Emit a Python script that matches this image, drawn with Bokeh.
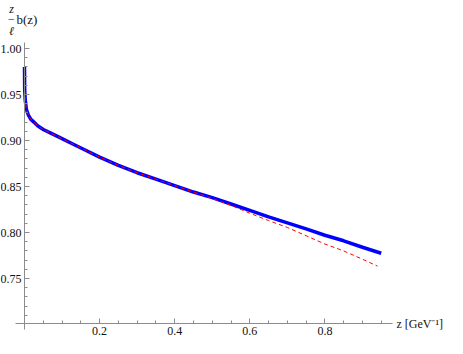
from bokeh.plotting import figure
from bokeh.models import Range1d, FixedTicker, NumeralTickFormatter, Label
from bokeh.embed import file_html
from bokeh.resources import INLINE

# Blue curve (solid)
z_blue = [0.0, 0.0005, 0.002, 0.005, 0.01, 0.017, 0.025, 0.035, 0.05, 0.07, 0.1, 0.13,
          0.16, 0.2, 0.25, 0.3, 0.35, 0.4, 0.45, 0.5, 0.55, 0.6, 0.65, 0.7, 0.75, 0.8,
          0.85, 0.9, 0.95]
b_blue = [0.980, 0.955, 0.944, 0.934, 0.928, 0.923, 0.920, 0.916, 0.912, 0.908, 0.902, 0.896,
          0.890, 0.882, 0.873, 0.865, 0.858, 0.851, 0.844, 0.838, 0.831, 0.824, 0.817, 0.8105,
          0.804, 0.797, 0.791, 0.784, 0.7775]

# Red curve (dashed)
z_red = [0.0005, 0.002, 0.005, 0.01, 0.017, 0.025, 0.035, 0.05, 0.07, 0.1, 0.13,
         0.16, 0.2, 0.25, 0.3, 0.35, 0.4, 0.45, 0.5, 0.55, 0.6, 0.65, 0.7, 0.75, 0.8,
         0.85, 0.9, 0.94]
b_red = [0.955, 0.944, 0.934, 0.928, 0.923, 0.920, 0.916, 0.912, 0.908, 0.902, 0.896,
         0.890, 0.882, 0.873, 0.865, 0.858, 0.851, 0.844, 0.837, 0.8295, 0.821, 0.813, 0.8055,
         0.7965, 0.7875, 0.780, 0.771, 0.7635]

x_major = [0.2, 0.4, 0.6, 0.8]
x_minor = [0.05, 0.1, 0.15, 0.25, 0.3, 0.35, 0.45, 0.5, 0.55, 0.65, 0.7, 0.75, 0.85, 0.9, 0.95]
y_major = [0.75, 0.80, 0.85, 0.90, 0.95, 1.00]
y_minor = [0.71, 0.72, 0.73, 0.74, 0.76, 0.77, 0.78, 0.79, 0.81, 0.82, 0.83, 0.84,
           0.86, 0.87, 0.88, 0.89, 0.91, 0.92, 0.93, 0.94, 0.96, 0.97, 0.98, 0.99]

# plot range (axis extents) and the point where the axes cross
x_axis_bounds = (-0.024, 0.98)
y_axis_bounds = (0.695, 1.0065)
x_cross, y_cross = 0.0, 0.701

FONT = "Liberation Serif"
AXC = "#8c8c8c"
TXT = "#111111"

p = figure(width=447, height=338, output_backend="svg", toolbar_location=None,
           x_range=Range1d(-0.0639, 1.1265), y_range=Range1d(0.6848, 1.0522),
           min_border=0, min_border_left=0, min_border_right=0,
           min_border_top=0, min_border_bottom=0)
p.outline_line_color = None
p.xgrid.visible = False
p.ygrid.visible = False
p.background_fill_color = "white"
p.border_fill_color = "white"

p.line(z_blue, b_blue, line_color="#0000ff", line_width=3.5)
p.line(z_red, b_red, line_color="#ff0000", line_width=1, line_dash="4 3")

for ax, major, minor, fmt, bnds, loc in (
        (p.xaxis[0], x_major, x_minor, "0.0", x_axis_bounds, y_cross),
        (p.yaxis[0], y_major, y_minor, "0.00", y_axis_bounds, x_cross)):
    ax.ticker = FixedTicker(ticks=major, minor_ticks=minor)
    ax.formatter = NumeralTickFormatter(format=fmt)
    ax.fixed_location = loc
    ax.bounds = bnds
    ax.axis_line_color = AXC
    ax.major_tick_line_color = AXC
    ax.minor_tick_line_color = AXC
    ax.major_tick_in = 5
    ax.major_tick_out = 0
    ax.minor_tick_in = 3
    ax.minor_tick_out = 0
    ax.major_label_text_font = FONT
    ax.major_label_text_font_size = "12px"
    ax.major_label_text_color = TXT
p.xaxis[0].major_label_standoff = 3
p.yaxis[0].major_label_standoff = 3

# x-axis label at the right end of the axis
p.add_layout(Label(x=x_axis_bounds[1], y=y_cross, x_offset=4, y_offset=0, text="z [GeV⁻¹]",
                   text_font=FONT, text_font_size="12px", text_color=TXT,
                   text_align="left", text_baseline="alphabetic"))

# y-axis label: (z / l) b(z), above the top of the y axis
top = y_axis_bounds[1]
p.add_layout(Label(x=x_cross, y=top, x_offset=-13, y_offset=34, text="z",
                   text_font=FONT, text_font_size="12px", text_font_style="italic",
                   text_align="center", text_baseline="middle", text_color=TXT))
p.add_layout(Label(x=x_cross, y=top, x_offset=-13, y_offset=24, text="−",
                   text_font=FONT, text_font_size="12px",
                   text_align="center", text_baseline="middle", text_color=TXT))
p.add_layout(Label(x=x_cross, y=top, x_offset=-13, y_offset=12, text="ℓ",
                   text_font=FONT, text_font_size="12px", text_font_style="italic",
                   text_align="center", text_baseline="middle", text_color=TXT))
p.add_layout(Label(x=x_cross, y=top, x_offset=-8, y_offset=23, text="b(z)",
                   text_font=FONT, text_font_size="13px",
                   text_align="left", text_baseline="middle", text_color=TXT))

open("out.html", "w").write(file_html(p, INLINE))
